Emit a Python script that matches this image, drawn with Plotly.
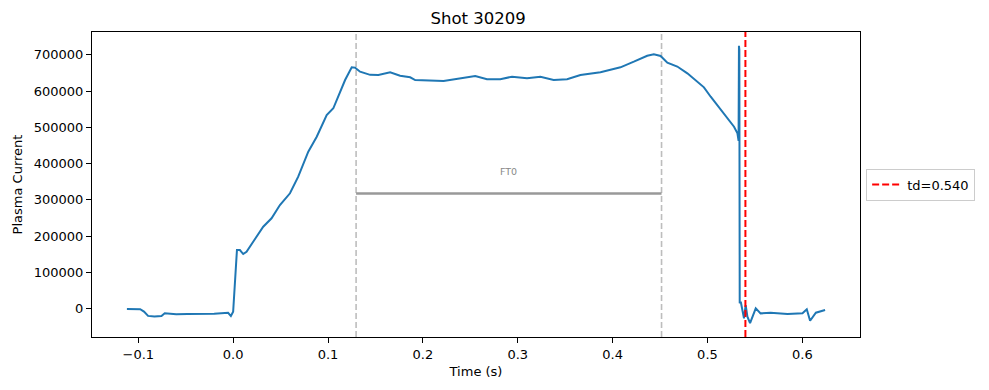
import plotly.graph_objects as go

# ---- data ----
time_s = [-0.112, -0.098, -0.094, -0.0897, -0.083, -0.0756, -0.0721, -0.060, -0.048, -0.0352,
          -0.020, -0.0053, -0.0024, 0.000, 0.0029, 0.0040, 0.0071, 0.0106, 0.0141, 0.0211,
          0.0317, 0.0405, 0.0493, 0.0599, 0.0686, 0.0792, 0.0881, 0.0986, 0.1056, 0.118,
          0.125, 0.1285, 0.1338, 0.1444, 0.1531, 0.1655, 0.176, 0.1866, 0.1919, 0.2218,
          0.25, 0.2552, 0.2676, 0.2816, 0.294, 0.3098, 0.3239, 0.3379, 0.352, 0.3661,
          0.3872, 0.4083, 0.4224, 0.4365, 0.4435, 0.4506, 0.4577, 0.4682, 0.4788, 0.4875,
          0.4963, 0.5034, 0.5139, 0.521, 0.528, 0.5316, 0.5328, 0.5332, 0.5336, 0.5340,
          0.5351, 0.5385, 0.5403, 0.5421, 0.5449, 0.5509, 0.556, 0.5665, 0.5844, 0.6002,
          0.6047, 0.6082, 0.6143, 0.624]
plasma_current = [-1000, -1500, -8000, -20000, -22000, -20500, -13000, -15500, -14500, -15000,
                  -14000, -11500, -20500, -8500, 98000, 162000, 161700, 150700, 157000, 184600,
                  226000, 249200, 285900, 318200, 364000, 433000, 474300, 534200, 552700, 630800,
                  665800, 665000, 653700, 645000, 644600, 652000, 642700, 638300, 630800, 628000,
                  638300, 641800, 632700, 632700, 640000, 635500, 640000, 630800, 632700, 644600,
                  652000, 665800, 681300, 697800, 701700, 697000, 678500, 668000, 649300, 630800,
                  610600, 584700, 548000, 525100, 502000, 483700, 463000, 725000, 715000, 15000,
                  19000, -26800, 9900, -22300, -40000, 800, -13000, -11300, -14900, -13000,
                  -1900, -33400, -11300, -3900]

ft_start = 0.1296
ft_end = 0.4516
ft_level = 318000
ft_label = "FT0"
ft_label_level = 379000
td = 0.540
td_label = "td=0.540"

x_tickvals = [-0.1, 0.0, 0.1, 0.2, 0.3, 0.4, 0.5, 0.6]
x_ticktext = ["\u22120.1", "0.0", "0.1", "0.2", "0.3", "0.4", "0.5", "0.6"]
y_tickvals = [0, 100000, 200000, 300000, 400000, 500000, 600000, 700000]
y_ticktext = ["0", "100000", "200000", "300000", "400000", "500000", "600000", "700000"]

# matplotlib-like 5% autoscale margins
xmin, xmax = min(time_s), max(time_s)
ymin, ymax = min(plasma_current), max(plasma_current)
xr = [xmin - 0.05 * (xmax - xmin), xmax + 0.05 * (xmax - xmin)]
yr = [ymin - 0.05 * (ymax - ymin), ymax + 0.05 * (ymax - ymin)]

FONT = "DejaVu Sans"
fig = go.Figure()

# flat-top dashed boundaries
for xv in (ft_start, ft_end):
    fig.add_trace(go.Scatter(x=[xv, xv], y=yr, mode="lines",
                             line=dict(color="#bdbdbd", width=1.6, dash="6px,3px"),
                             showlegend=False, hoverinfo="skip"))

# flat-top bar
fig.add_trace(go.Scatter(x=[ft_start, ft_end], y=[ft_level, ft_level], mode="lines",
                         line=dict(color="#999999", width=2.5), showlegend=False))

# plasma current
fig.add_trace(go.Scatter(x=time_s, y=plasma_current, mode="lines",
                         line=dict(color="#1f77b4", width=2), showlegend=False))

# disruption time
fig.add_trace(go.Scatter(x=[td, td], y=yr, mode="lines", name=td_label,
                         line=dict(color="#ff0000", width=2, dash="7px,3px"),
                         showlegend=True))

fig.add_annotation(x=(ft_start + ft_end) / 2, y=ft_label_level, text=ft_label,
                   showarrow=False, font=dict(family=FONT, size=9.5, color="#888888"))

axis_common = dict(showline=True, linecolor="black", linewidth=1, mirror=True,
                   ticks="outside", ticklen=5, tickwidth=1, tickcolor="black",
                   showgrid=False, zeroline=False,
                   tickfont=dict(family=FONT, size=13, color="black"))

fig.update_layout(
    width=989, height=390,
    margin=dict(l=92, r=129, t=32, b=53),
    paper_bgcolor="white", plot_bgcolor="white",
    font=dict(family=FONT, size=13, color="black"),
    title=dict(text="Shot 30209", x=0.4835, xanchor="center", y=1 - 18 / 390,
               yanchor="middle", font=dict(family=FONT, size=16.5, color="black")),
    xaxis=dict(range=xr, tickvals=x_tickvals, ticktext=x_ticktext,
               title=dict(text="Time (s)", font=dict(family=FONT, size=13), standoff=6),
               **axis_common),
    yaxis=dict(range=yr, tickvals=y_tickvals, ticktext=y_ticktext,
               title=dict(text="Plasma Current", font=dict(family=FONT, size=13), standoff=8),
               **axis_common),
    legend=dict(x=1.008, xanchor="left", y=0.5, yanchor="middle",
                bordercolor="#cccccc", borderwidth=1, bgcolor="white",
                font=dict(family=FONT, size=13, color="black"), itemwidth=30),
)

fig.write_html("out.html")
